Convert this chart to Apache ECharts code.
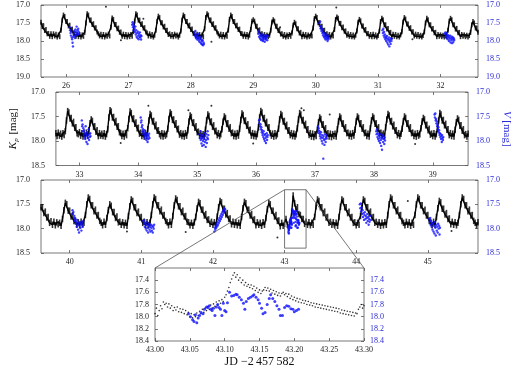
<!DOCTYPE html>
<html><head><meta charset="utf-8">
<script src="https://cdn.jsdelivr.net/npm/echarts@6/dist/echarts.min.js"></script>
<style>html,body{margin:0;padding:0;background:#fff}#c{width:520px;height:369px}</style>
</head><body><div id="c"></div>
<script>
// ---------------- data ----------------
const cadence = 0.02;           // cadence used for the light curves (days)
const p1Start = 25.6, p1End = 32.6;
const p2Start = 32.6, p2End = 39.6;
const p3Start = 39.6, p3End = 45.7;

const p1Kp = [
17.48,17.60,17.58,17.71,17.68,17.80,17.79,17.87,17.80,17.88,
17.80,17.86,17.81,17.89,17.83,17.88,17.70,17.42,17.28,17.32,
17.46,17.46,17.58,17.56,17.68,17.67,17.79,17.80,17.87,17.81,
17.88,17.82,17.89,17.83,17.87,17.76,17.50,17.24,17.28,17.42,
17.42,17.54,17.52,17.64,17.63,17.75,17.80,17.86,17.81,17.88,
17.82,17.89,17.83,17.87,17.81,17.86,17.62,17.36,17.40,17.54,
17.54,17.66,17.64,17.76,17.75,17.87,17.81,17.88,17.82,17.89,
17.83,17.88,17.82,17.87,17.74,17.45,17.24,17.28,17.42,17.42,
17.54,17.52,17.64,17.63,17.75,17.78,17.86,17.80,17.87,17.82,
17.89,17.84,17.70,17.45,17.31,17.35,17.49,17.49,17.61,17.59,
17.71,17.70,17.82,17.80,17.87,17.82,17.88,17.81,17.86,17.83,
17.89,17.84,17.72,17.42,17.28,17.32,17.46,17.46,17.58,17.56,
17.68,17.67,17.79,17.80,17.87,17.81,17.88,17.82,17.89,17.83,
17.88,17.66,17.35,17.24,17.28,17.42,17.42,17.54,17.52,17.64,
17.63,17.75,17.80,17.86,17.81,17.88,17.82,17.89,17.83,17.87,
17.70,17.40,17.28,17.32,17.46,17.46,17.58,17.56,17.68,17.67,
17.79,17.80,17.87,17.81,17.88,17.82,17.89,17.84,17.68,17.45,
17.41,17.45,17.59,17.59,17.71,17.69,17.81,17.80,17.87,17.82,
17.89,17.83,17.88,17.84,17.70,17.47,17.41,17.45,17.59,17.59,
17.71,17.69,17.81,17.80,17.87,17.82,17.89,17.83,17.88,17.82,
17.87,17.78,17.56,17.48,17.52,17.66,17.66,17.78,17.76,17.88,
17.81,17.87,17.82,17.89,17.83,17.88,17.84,17.86,17.64,17.38,
17.31,17.35,17.49,17.49,17.61,17.59,17.71,17.70,17.82,17.80,
17.87,17.82,17.89,17.83,17.86,17.68,17.40,17.33,17.37,17.51,
17.51,17.63,17.61,17.73,17.72,17.84,17.80,17.87,17.82,17.88,
17.83,17.89,17.84,17.72,17.48,17.40,17.44,17.58,17.58,17.70,
17.68,17.80,17.79,17.87,17.82,17.88,17.81,17.88,17.83,17.89,
17.85,17.73,17.46,17.37,17.41,17.55,17.55,17.67,17.65,17.77,
17.76,17.88,17.81,17.87,17.82,17.88,17.84,17.89,17.83,17.74,
17.47,17.35,17.39,17.53,17.53,17.65,17.63,17.75,17.74,17.86,
17.81,17.87,17.82,17.88,17.84,17.89,17.85,17.75,17.50,17.37,
17.41,17.55,17.55,17.67,17.65,17.77,17.76,17.88,17.82,17.87,
17.83,17.88,17.84,17.89,17.85,17.88,17.70,17.45,17.37,17.41,
17.55,17.55,17.67,17.65,17.77,17.76,17.88,17.82,17.87,17.83,
17.88,17.84,17.89,17.85,17.76,17.55,17.46,17.50,17.64,17.64,
17.76];

const p2Kp = [
17.84,17.90,17.83,17.89,17.85,17.91,17.84,17.88,17.80,17.58,
17.39,17.42,17.54,17.53,17.64,17.61,17.73,17.72,17.84,17.86,
17.82,17.89,17.84,17.91,17.85,17.90,17.83,17.89,17.78,17.64,
17.56,17.59,17.71,17.70,17.81,17.78,17.90,17.84,17.89,17.85,
17.90,17.84,17.91,17.86,17.76,17.52,17.37,17.40,17.52,17.51,
17.62,17.59,17.71,17.70,17.82,17.84,17.90,17.85,17.91,17.84,
17.88,17.74,17.55,17.40,17.43,17.55,17.54,17.65,17.62,17.74,
17.73,17.85,17.83,17.90,17.85,17.91,17.84,17.89,17.76,17.58,
17.45,17.48,17.60,17.59,17.70,17.67,17.79,17.78,17.86,17.90,
17.84,17.91,17.85,17.89,17.86,17.75,17.55,17.42,17.45,17.57,
17.56,17.67,17.64,17.76,17.75,17.87,17.84,17.90,17.85,17.91,
17.84,17.89,17.78,17.60,17.48,17.51,17.63,17.62,17.73,17.70,
17.82,17.81,17.89,17.85,17.90,17.86,17.91,17.77,17.58,17.46,
17.49,17.61,17.60,17.71,17.68,17.80,17.79,17.88,17.84,17.90,
17.86,17.76,17.60,17.50,17.53,17.65,17.64,17.75,17.72,17.84,
17.83,17.90,17.85,17.91,17.84,17.89,17.75,17.57,17.44,17.47,
17.59,17.58,17.69,17.66,17.78,17.77,17.89,17.84,17.90,17.85,
17.91,17.86,17.72,17.52,17.39,17.42,17.54,17.53,17.64,17.61,
17.73,17.72,17.84,17.89,17.85,17.91,17.84,17.90,17.86,17.75,
17.56,17.45,17.48,17.60,17.59,17.70,17.67,17.79,17.78,17.88,
17.84,17.90,17.85,17.91,17.86,17.74,17.56,17.43,17.46,17.58,
17.57,17.68,17.65,17.77,17.76,17.88,17.84,17.91,17.85,17.92,
17.86,17.90,17.78,17.62,17.52,17.55,17.67,17.66,17.77,17.74,
17.86,17.84,17.91,17.85,17.92,17.86,17.90,17.85,17.91,17.76,
17.60,17.50,17.53,17.65,17.64,17.75,17.72,17.84,17.83,17.90,
17.85,17.91,17.84,17.89,17.77,17.60,17.50,17.53,17.65,17.64,
17.75,17.72,17.84,17.83,17.90,17.85,17.91,17.74,17.58,17.50,
17.53,17.65,17.64,17.75,17.72,17.84,17.83,17.89,17.85,17.90,
17.72,17.56,17.45,17.48,17.60,17.59,17.70,17.67,17.79,17.78,
17.88,17.84,17.90,17.85,17.75,17.60,17.50,17.53,17.65,17.64,
17.75,17.72,17.84,17.83,17.90,17.85,17.91,17.84,17.89,17.86,
17.74,17.60,17.53,17.56,17.68,17.67,17.78,17.75,17.87,17.85,
17.90,17.84,17.91,17.86,17.75,17.58,17.43,17.46,17.58,17.57,
17.68,17.65,17.77,17.76,17.88,17.84,17.90,17.85,17.91,17.77,
17.62,17.54,17.57,17.69,17.68,17.79,17.76,17.88,17.86,17.91,
17.85];

const p3Kp = [
17.56,17.56,17.68,17.65,17.77,17.76,17.88,17.85,17.92,17.86,
17.93,17.87,17.91,17.88,17.94,17.80,17.62,17.47,17.50,17.63,
17.63,17.75,17.72,17.84,17.83,17.92,17.87,17.93,17.86,17.91,
17.88,17.72,17.50,17.36,17.39,17.52,17.52,17.64,17.61,17.73,
17.72,17.84,17.88,17.93,17.86,17.92,17.78,17.62,17.50,17.53,
17.66,17.66,17.78,17.75,17.87,17.86,17.92,17.87,17.93,17.88,
17.94,17.74,17.54,17.40,17.43,17.56,17.56,17.68,17.65,17.77,
17.76,17.88,17.86,17.92,17.87,17.93,17.88,17.72,17.50,17.36,
17.39,17.52,17.52,17.64,17.61,17.73,17.72,17.84,17.87,17.93,
17.86,17.92,17.74,17.52,17.38,17.41,17.54,17.54,17.66,17.63,
17.75,17.74,17.86,17.87,17.93,17.88,17.94,17.87,17.76,17.58,
17.45,17.48,17.61,17.61,17.73,17.70,17.82,17.81,17.90,17.86,
17.92,17.87,17.93,17.75,17.56,17.43,17.46,17.59,17.59,17.71,
17.68,17.80,17.79,17.91,17.86,17.92,17.87,17.93,17.88,17.94,
17.76,17.58,17.45,17.48,17.61,17.61,17.73,17.70,17.82,17.81,
17.93,17.87,17.92,17.88,17.94,17.87,17.92,17.78,17.60,17.47,
17.50,17.63,17.63,17.75,17.72,17.84,17.83,17.95,17.88,17.94,
17.90,17.80,17.92,17.98,17.84,17.66,17.32,17.48,17.60,17.56,
17.70,17.72,17.80,17.80,17.90,17.86,17.92,17.87,17.93,17.88,
17.92,17.76,17.54,17.40,17.43,17.56,17.56,17.68,17.65,17.77,
17.76,17.88,17.86,17.92,17.87,17.93,17.88,17.94,17.76,17.55,
17.40,17.43,17.56,17.56,17.68,17.65,17.77,17.76,17.88,17.87,
17.93,17.88,17.92,17.74,17.55,17.40,17.43,17.56,17.56,17.68,
17.65,17.77,17.76,17.88,17.86,17.92,17.87,17.94,17.88,17.93,
17.87,17.92,17.72,17.50,17.36,17.39,17.52,17.52,17.64,17.61,
17.73,17.72,17.84,17.88,17.93,17.86,17.92,17.87,17.94,17.88,
17.92,17.72,17.50,17.36,17.39,17.52,17.52,17.64,17.61,17.73,
17.72,17.84,17.87,17.93,17.86,17.92,17.76,17.58,17.43,17.46,
17.59,17.59,17.71,17.68,17.80,17.79,17.91,17.86,17.92,17.87,
17.93,17.88,17.72,17.50,17.36,17.39,17.52,17.52,17.64,17.61,
17.73,17.72,17.84,17.88,17.93,17.87];

// isolated black points away from the band: [JD, Kp]
const p1Outliers = [[26.64,17.05],[30.33,17.07],[27.24,17.38],[28.33,18.02],[29.43,17.62],[31.55,17.95],[26.88,17.98]];
const p2Outliers = [[34.17,17.28],[35.24,17.28],[34.85,17.37],[36.77,17.33],[37.25,17.46],[36.81,17.37],[35.95,18.05],[38.70,18.06],[33.70,18.04]];
const p3Outliers = [[44.72,17.43],[42.90,18.18],[40.80,18.06],[41.62,18.07],[45.33,18.05]];

// ground-based V photometry: nightly runs (start JD, fixed cadence)
const blueStep = 0.0065;
const p1BlueStart = [26.06, 27.06, 28.06, 29.08, 30.06, 31.07, 32.07];
const p1BlueV = [
[17.62,17.70,17.78,17.85,17.74,17.90,17.95,18.05,18.15,17.88,17.80,17.72,17.86,17.92,17.68,17.75,17.84,17.60,17.78,17.70,17.82,17.66,17.74,17.80],
[17.55,17.48,17.62,17.52,17.70,17.58,17.66,17.75,17.60,17.82,17.70,17.88,17.78,17.92,17.74,17.85,17.95,17.80,17.88,17.76,17.90,17.84,17.96,17.86],
[17.78,17.85,17.72,17.90,17.82,17.88,17.95,17.86,17.92,17.80,17.98,17.90,18.02,17.94,17.88,18.05,17.96,18.08,18.00,18.10,17.98,18.12,18.04,18.08],
[17.80,17.72,17.88,17.78,17.92,17.84,17.95,17.86,17.98,17.90,17.82,17.96,18.00,17.88,17.94,17.85,18.02,17.90,17.96,17.84,17.92,17.88,17.98,17.86],
[17.50,17.58,17.46,17.65,17.60,17.72,17.66,17.78,17.70,17.84,17.76,17.88,17.80,17.92,17.85,17.96,17.88,17.82,17.94,17.90,18.00,17.86,17.95,17.92],
[17.70,17.78,17.66,17.85,17.75,17.90,17.82,17.95,17.88,18.00,17.92,17.86,18.05,17.94,18.10,17.98,17.90,18.15,18.02,17.96,18.08,17.92,18.00,17.94],
[17.80,17.76,17.88,17.82,17.92,17.78,17.86,17.95,17.84,17.90,18.00,17.88,17.94,17.85,18.04,17.92,17.98,17.88,18.06,17.95,17.90,18.02,17.93,17.97]];
const p2BlueStart = [33.04, 34.04, 35.04, 36.05, 37.05, 38.04, 39.03];
const p2BlueV = [
[17.58,17.70,17.66,17.80,17.74,17.88,17.78,17.92,17.84,17.96,17.70,17.86,18.02,17.90,17.82,18.06,17.94,17.88,17.76,17.98,17.86,17.92,17.84,17.90],
[17.52,17.62,17.58,17.72,17.68,17.80,17.76,17.86,17.82,17.92,17.78,17.88,17.95,17.84,17.90,17.98,17.86,17.93,18.02,17.88,17.96,17.90,17.85,17.94],
[17.86,17.94,17.80,17.98,17.90,18.05,17.95,18.10,17.88,18.00,17.92,18.08,17.96,17.84,18.02,17.90,18.12,17.98,17.86,18.04,17.93,17.80,17.96,17.88],
[17.58,17.64,17.56,17.70,17.66,17.76,17.72,17.82,17.78,17.88,17.84,17.92,17.80,17.96,17.88,18.00,17.86,17.94,18.04,17.90,17.84,17.98,17.92,17.88],
[17.70,17.78,17.74,17.84,17.80,17.90,17.86,17.95,17.82,17.92,18.00,17.88,18.05,17.94,18.36,17.90,17.98,18.08,17.86,17.96,18.02,17.92,17.88,17.95],
[17.80,17.86,17.76,17.92,17.84,17.96,17.88,18.00,17.90,17.94,18.04,17.86,17.98,18.10,17.92,18.18,17.95,17.88,18.02,17.90,17.96,18.06,17.93,17.99],
[17.46,17.52,17.44,17.58,17.55,17.64,17.60,17.70,17.66,17.76,17.72,17.82,17.78,17.88,17.84,17.92,17.86,17.96,17.90,18.02,17.88,17.94,17.98,17.92]];
const p3BlueStart = [40.04, 41.03, 42.02, 44.05, 45.02];
const p3BlueV = [
[17.62,17.70,17.66,17.78,17.74,17.84,17.80,17.90,17.86,17.96,17.82,17.92,18.02,17.88,18.08,17.94,17.86,17.98,17.90,18.04,17.92,17.88,17.96,17.84],
[17.84,17.90,17.82,17.96,17.88,18.00,17.92,18.04,17.86,17.98,18.08,17.94,17.90,18.02,17.96,18.06,17.92,17.98,18.04,17.94,18.08,17.96,18.00,17.92],
[18.06,17.98,18.02,17.94,17.98,17.90,17.95,17.86,17.92,17.82,17.88,17.78,17.84,17.74,17.80,17.70,17.76,17.66,17.72,17.62,17.68,17.58,17.64,17.60],
[17.50,17.58,17.48,17.64,17.56,17.70,17.62,17.76,17.68,17.82,17.72,17.66,17.80,17.74,17.88,17.78,17.70,17.84,17.76,17.92,17.80,17.86,17.74,17.82],
[17.80,17.86,17.78,17.92,17.84,17.96,17.88,18.02,17.90,18.06,17.94,18.10,17.86,17.98,18.14,17.92,18.04,17.96,18.08,17.90,18.00,17.94,18.12,17.98]];

// zoomed window (inset)
const insetX0 = 43.0, insetX1 = 43.3, insetY0 = 17.2, insetY1 = 18.4;
const insetStep = 0.002;
const insetKp = [
17.95,17.86,17.98,17.90,17.82,17.87,17.76,17.80,17.78,17.84,
17.79,17.86,17.82,17.90,17.85,17.89,17.84,17.92,17.87,17.93,
17.88,17.95,17.90,17.97,17.93,18.00,17.95,18.02,17.97,18.00,
17.94,17.98,17.91,17.95,17.88,17.93,17.86,17.90,17.83,17.88,
17.81,17.86,17.79,17.83,17.76,17.81,17.74,17.78,17.72,17.75,
17.68,17.64,17.58,17.52,17.44,17.38,17.32,17.28,17.35,17.31,
17.40,17.36,17.44,17.40,17.48,17.44,17.50,17.47,17.52,17.48,
17.54,17.50,17.57,17.53,17.60,17.56,17.62,17.58,17.56,17.52,
17.57,17.53,17.58,17.55,17.61,17.57,17.63,17.59,17.65,17.61,
17.66,17.62,17.60,17.64,17.62,17.67,17.63,17.70,17.66,17.72,
17.68,17.74,17.70,17.76,17.71,17.77,17.73,17.78,17.74,17.80,
17.75,17.81,17.77,17.82,17.78,17.84,17.79,17.85,17.80,17.86,
17.81,17.87,17.82,17.88,17.83,17.89,17.84,17.90,17.85,17.91,
17.86,17.92,17.87,17.94,17.89,17.95,17.90,17.96,17.91,17.97,
17.92,17.98,17.93,17.99,17.94,17.95,17.88,17.84,17.80,17.86,
17.82];
const insetBlueT = [43.048,43.051,43.054,43.056,43.058,43.060,43.062,43.064,43.066,43.069,43.071,43.074,43.076,43.078,43.080,43.082,43.084,43.086,43.088,43.090,43.092,43.094,43.096,43.098,43.100,43.102,43.104,43.107,43.110,43.113,43.116,43.118,43.121,43.124,43.127,43.129,43.131,43.134,43.137,43.140,43.142,43.145,43.148,43.150,43.153,43.155,43.158,43.161,43.164,43.166,43.169,43.172,43.175,43.178,43.180,43.183,43.186,43.189,43.192,43.195,43.198,43.200,43.203,43.206];
const insetBlueV = [17.95,18.00,18.05,18.08,17.97,18.10,18.02,17.98,17.93,17.95,17.88,17.84,17.85,17.82,17.88,17.90,17.86,17.98,17.84,17.80,17.85,17.88,17.98,17.78,17.90,17.92,17.77,17.60,17.66,17.65,17.63,17.64,17.68,17.72,17.78,17.88,17.75,17.70,17.68,17.66,17.64,17.68,17.72,17.78,17.86,17.95,17.93,17.80,17.70,17.64,17.70,17.75,17.82,17.88,17.98,17.98,17.85,17.82,17.83,17.87,17.88,17.92,17.90,17.88];

// tick labels
const p1Ticks = [26,27,28,29,30,31,32];
const p2Ticks = [33,34,35,36,37,38,39];
const p3Ticks = [40,41,42,43,44,45];
const xTitle = 'JD \u22122\u2009457\u2009582';

// ---------------- build ----------------
const FONT = 'Liberation Serif';
const INK = '#222';
const BLUE = '#2a2ad8';
const FRAME = '#555';

function series(start, step, vals) { return vals.map((v, i) => [+(start + i * step).toFixed(4), v]); }
function runs(starts, step, sets) {
  const out = [];
  sets.forEach((vals, j) => vals.forEach((v, k) => out.push([+(starts[j] + k * step).toFixed(4), v])));
  return out;
}
const insetBlue = insetBlueT.map((t, i) => [t, insetBlueV[i]]);

const grids = [
  {left: 41, top: 5, width: 437, height: 72},
  {left: 41, top: 92, width: 437, height: 73.5},
  {left: 41, top: 180, width: 437, height: 73},
  {left: 155, top: 268, width: 209, height: 73}
].map(g => Object.assign(g, {show: true, borderColor: FRAME, borderWidth: 0.8, backgroundColor: 'transparent'}));

const xr = [[p1Start, p1End, p1Ticks], [p2Start, p2End, p2Ticks], [p3Start, p3End, p3Ticks]];
const xAxis = [];
const tickStyle = {inside: true, length: 3, lineStyle: {color: FRAME, width: 0.8}};
xr.forEach((r, g) => {
  xAxis.push({gridIndex: g, type: 'value', min: r[0], max: r[1], position: 'bottom',
    axisLine: {show: false}, splitLine: {show: false},
    axisTick: Object.assign({customValues: r[2]}, tickStyle),
    axisLabel: {customValues: r[2], fontFamily: FONT, fontSize: 8, color: INK, margin: 5}});
});
xAxis.push({gridIndex: 3, type: 'value', min: insetX0, max: insetX1, interval: 0.05, position: 'bottom',
  axisLine: {show: false}, splitLine: {show: false}, axisTick: tickStyle,
  axisLabel: {fontFamily: FONT, fontSize: 8, color: INK, margin: 5, formatter: v => v.toFixed(2)},
  name: xTitle, nameLocation: 'middle', nameGap: 15,
  nameTextStyle: {fontFamily: FONT, fontSize: 12, color: '#111'}});
xr.forEach((r, g) => {
  xAxis.push({gridIndex: g, type: 'value', min: r[0], max: r[1], position: 'top',
    axisLine: {show: false}, splitLine: {show: false},
    axisTick: Object.assign({customValues: r[2]}, tickStyle), axisLabel: {show: false}});
});
xAxis.push({gridIndex: 3, type: 'value', min: insetX0, max: insetX1, interval: 0.05, position: 'top',
  axisLine: {show: false}, splitLine: {show: false}, axisTick: tickStyle, axisLabel: {show: false}});

const yr = [[17, 19, 0.5], [17, 18.5, 0.5], [17, 18.5, 0.5], [insetY0, insetY1, 0.2]];
const yAxis = [];
yr.forEach((r, g) => {
  const ax = {gridIndex: g, type: 'value', inverse: true, min: r[0], max: r[1], interval: r[2], position: 'left',
    axisLine: {show: false}, splitLine: {show: false}, axisTick: tickStyle,
    axisLabel: {fontFamily: FONT, fontSize: 8, color: INK, margin: g === 3 ? 6 : 11, formatter: v => v.toFixed(1), showMinLabel: g !== 3}};
  if (g === 1) {
    ax.name = '{k|K}{s|p} [mag]';
    ax.nameLocation = 'middle'; ax.nameGap = 30; ax.nameRotate = 90;
    ax.nameTextStyle = {fontFamily: FONT, fontSize: 11, color: '#111',
      rich: {k: {fontFamily: FONT, fontSize: 11, fontStyle: 'italic', color: '#111'},
             s: {fontFamily: FONT, fontSize: 7, fontStyle: 'italic', color: '#111', padding: [6, 1, 0, 0]}}};
  }
  yAxis.push(ax);
});
yr.forEach((r, g) => {
  const ax = {gridIndex: g, type: 'value', inverse: true, min: r[0], max: r[1], interval: r[2], position: 'right',
    axisLine: {show: false}, splitLine: {show: false}, axisTick: tickStyle,
    axisLabel: {fontFamily: FONT, fontSize: 8, color: BLUE, margin: g === 3 ? 6 : 8, formatter: v => v.toFixed(1), showMinLabel: g !== 3}};
  if (g === 1) {
    ax.name = '{v|V} [mag]';
    ax.nameLocation = 'middle'; ax.nameGap = 28; ax.nameRotate = -90;
    ax.nameTextStyle = {fontFamily: FONT, fontSize: 11, color: BLUE,
      rich: {v: {fontFamily: FONT, fontSize: 11, fontStyle: 'italic', color: BLUE}}};
  }
  yAxis.push(ax);
});

// light curve drawn as a connected trace plus short vertical bars giving the photometric scatter band
const lc = (data, g) => ({type: 'line', xAxisIndex: g, yAxisIndex: g, data, showSymbol: false, symbol: 'none',
  lineStyle: {color: '#000', width: 1.4}, silent: true, animation: false, z: 2});
const band = (data, g, h) => ({type: 'scatter', xAxisIndex: g, yAxisIndex: g, data, symbol: 'rect',
  symbolSize: [1.6, h], itemStyle: {color: '#000'}, silent: true, animation: false, z: 2});
const dots = (data, xi, yi, color, size, z) => ({type: 'scatter', xAxisIndex: xi, yAxisIndex: yi, data,
  symbolSize: size, itemStyle: {color}, silent: true, animation: false, z});

const d1 = series(p1Start, cadence, p1Kp), d2 = series(p2Start, cadence, p2Kp), d3 = series(p3Start, cadence, p3Kp);
const seriesList = [
  lc(d1, 0), band(d1, 0, 5),
  lc(d2, 1), band(d2, 1, 6.5),
  lc(d3, 2), band(d3, 2, 6.5),
  dots(p1Outliers, 0, 0, '#000', 2, 2),
  dots(p2Outliers, 1, 1, '#000', 2, 2),
  dots(p3Outliers, 2, 2, '#000', 2, 2),
  dots(runs(p1BlueStart, blueStep, p1BlueV), 0, 4, '#1010ff', 2.4, 3),
  dots(runs(p2BlueStart, blueStep, p2BlueV), 1, 5, '#1010ff', 2.4, 3),
  dots(runs(p3BlueStart, blueStep, p3BlueV).concat(insetBlue), 2, 6, '#1010ff', 2.4, 3),
  dots(series(insetX0, insetStep, insetKp), 3, 3, '#000', 1.6, 2),
  dots(insetBlue, 3, 7, '#1010ff', 3, 3)
];

const chart = echarts.init(document.getElementById('c'), null, {renderer: 'canvas'});
chart.setOption({animation: false, backgroundColor: '#fff', grid: grids, xAxis, yAxis, series: seriesList});

// zoom box in panel 3 and connector lines to the inset
const f3 = {xAxisIndex: 2, yAxisIndex: 2}, f4 = {xAxisIndex: 3, yAxisIndex: 3};
const bTL = chart.convertToPixel(f3, [insetX0, insetY0]);
const bBR = chart.convertToPixel(f3, [insetX1, insetY1]);
const iTL = chart.convertToPixel(f4, [insetX0, insetY0]);
const iTR = chart.convertToPixel(f4, [insetX1, insetY0]);
const ls = {stroke: FRAME, lineWidth: 0.8, fill: null};
chart.setOption({graphic: [
  {type: 'rect', z: 100, silent: true, shape: {x: bTL[0], y: bTL[1], width: bBR[0] - bTL[0], height: bBR[1] - bTL[1]}, style: ls},
  {type: 'line', z: 100, silent: true, shape: {x1: bTL[0], y1: bTL[1], x2: iTL[0], y2: iTL[1]}, style: ls},
  {type: 'line', z: 100, silent: true, shape: {x1: bBR[0], y1: bTL[1], x2: iTR[0], y2: iTR[1]}, style: ls}
]});
</script></body></html>
